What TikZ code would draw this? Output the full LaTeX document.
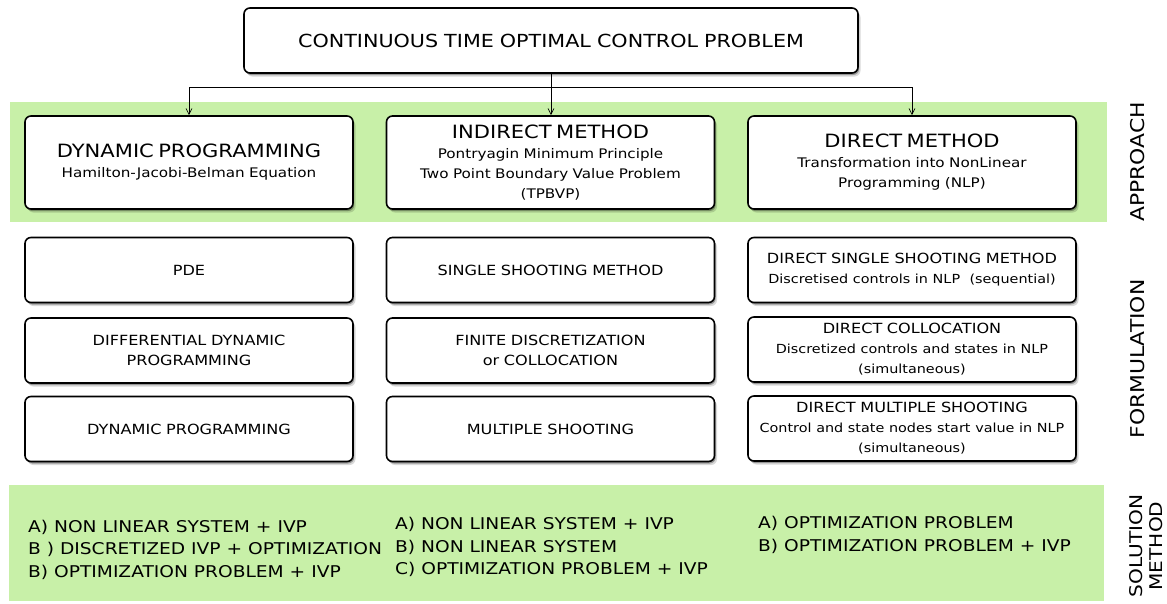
\documentclass[tikz,border=0pt]{standalone}
\usepackage{fontspec}
\setmainfont{DejaVu Sans}[FakeStretch=1.15]
\usetikzlibrary{arrows.meta,shadows}
\definecolor{bandgreen}{RGB}{200,240,168}
\newcommand{\headtxt}[1]{{\fontsize{18.3}{20}\selectfont #1}}
\newcommand{\smalltxt}[1]{{\fontsize{12.5}{20}\selectfont #1}}
\tikzset{
  basebox/.style={draw=black, line width=1.6pt, rounded corners=6pt, fill=white,
    align=center, inner sep=0pt, minimum width=328pt, text width=322pt,
    drop shadow={shadow xshift=2.5pt, shadow yshift=-3.5pt, opacity=0.15, fill=black},
    drop shadow={shadow xshift=1.2pt, shadow yshift=-2pt, opacity=0.3, fill=black}},
  bigbox/.style={basebox, minimum height=93pt, font=\fontsize{13.2}{20}\selectfont},
  rowbox/.style={basebox, minimum height=65pt, font=\fontsize{14}{20}\selectfont},
  band/.style={fill=bandgreen, draw=none},
  sidelabel/.style={rotate=90, align=center, font=\fontsize{19}{20}\selectfont},
  soltext/.style={anchor=west, align=left, inner sep=0pt, font=\fontsize{16.2}{22.5}\selectfont},
  arr/.style={draw=black, line width=0.7pt, -{Straight Barb[length=6pt,width=6pt]}}
}
\begin{document}
\begin{tikzpicture}[x=1pt,y=-1pt]
\useasboundingbox (0,0) rectangle (1167,603);
% bands
\path[band] (10,102) rectangle (1107,222);
\path[band] (9,485) rectangle (1104,601);
% top box
\node[basebox, minimum width=614pt, text width=600pt, minimum height=65pt,
      font=\fontsize{18}{20}\selectfont] (top) at (551,40.5)
      {CONTINUOUS TIME OPTIMAL CONTROL PROBLEM};
% approach row
\node[bigbox] (dp) at (189,162.5)
  {\headtxt{DYNAMIC PROGRAMMING}\\Hamilton-Jacobi-Belman Equation};
\node[bigbox] (ind) at (550.5,162.5)
  {\headtxt{INDIRECT METHOD}\\Pontryagin Minimum Principle\\Two Point Boundary Value Problem\\(TPBVP)};
\node[bigbox] (dm) at (912,162.5)
  {\headtxt{DIRECT METHOD}\\Transformation into NonLinear\\Programming (NLP)};
% formulation rows
\node[rowbox] (pde) at (189,270) {PDE};
\node[rowbox] (ssm) at (550.5,270) {SINGLE SHOOTING METHOD};
\node[rowbox] (dss) at (912,270)
  {DIRECT SINGLE SHOOTING METHOD\\\smalltxt{Discretised controls in NLP~~(sequential)}};
\node[rowbox] (ddp) at (189,350.5) {DIFFERENTIAL DYNAMIC\\PROGRAMMING};
\node[rowbox] (fdc) at (550.5,350.5) {FINITE DISCRETIZATION\\or COLLOCATION};
\node[rowbox] (dco) at (912,349.5)
  {DIRECT COLLOCATION\\\smalltxt{Discretized controls and states in NLP}\\\smalltxt{(simultaneous)}};
\node[rowbox] (dpr) at (189,429) {DYNAMIC PROGRAMMING};
\node[rowbox] (msh) at (550.5,429) {MULTIPLE SHOOTING};
\node[rowbox] (dms) at (912,428.5)
  {DIRECT MULTIPLE SHOOTING\\\smalltxt{Control and state nodes start value in NLP}\\\smalltxt{(simultaneous)}};
% connectors
\coordinate (jn) at (top.south |- 0,87);
\draw[arr] (top.south) -- (top.south |- ind.north);
\draw[arr] (jn) -| (dp.north);
\draw[arr] (jn) -| (dm.north);
% side labels
\node[sidelabel] (lapp) at (1138,162) {APPROACH};
\node[sidelabel] (lform) at (1138,359) {FORMULATION};
\node[sidelabel, font=\fontsize{17.5}{20}\selectfont] (lsol) at (1146,546) {SOLUTION\\METHOD};
% solution methods
\node[soltext] (s1) at (28,549.5) {A) NON LINEAR SYSTEM + IVP\\B ) DISCRETIZED IVP + OPTIMIZATION\\B) OPTIMIZATION PROBLEM + IVP};
\node[soltext] (s2) at (395,547) {A) NON LINEAR SYSTEM + IVP\\B) NON LINEAR SYSTEM\\C) OPTIMIZATION PROBLEM + IVP};
\node[soltext] (s3) at (758,535) {A) OPTIMIZATION PROBLEM\\B) OPTIMIZATION PROBLEM + IVP};
\end{tikzpicture}
\end{document}
